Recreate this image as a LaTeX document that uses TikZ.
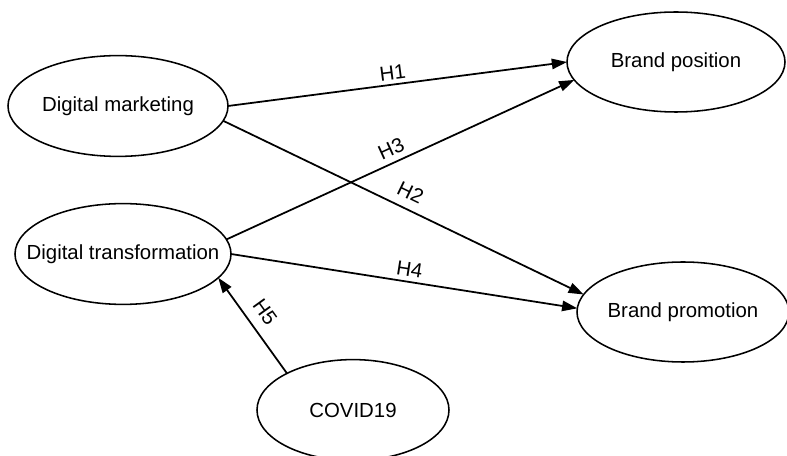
\documentclass[tikz,border=0pt]{standalone}
\usepackage{fontspec}
\setmainfont{Liberation Sans}
\usepackage{tikz}
\usetikzlibrary{arrows.meta,shapes.geometric}
\tikzset{every node/.append style={font=\fontsize{14.5}{17}\selectfont}}
\tikzset{construct/.style={ellipse, draw, line width=1.1pt, outer sep=0, inner sep=0, minimum height=2.52cm}}
\tikzset{hyp/.style={sloped, above, inner sep=4pt}}
% text kept out of the ellipse size
\newcommand{\ctext}[1]{\makebox[0pt]{#1}}

\begin{document}
\begin{tikzpicture}[line width=1.25pt, >={Triangle[length=0.38cm,width=0.26cm]}]
    \useasboundingbox (0,0) rectangle (19.675,11.4);

    \node[construct, minimum width=5.5cm] (DM) at (2.95,8.75) {\ctext{Digital marketing}};
    \node[construct, minimum width=5.4cm] (DT) at (3.075,5.05) {\ctext{Digital transformation}};
    \node[construct, minimum width=4.8cm] (COV) at (8.825,1.15) {\ctext{COVID19}};
    \node[construct, minimum width=5.45cm, minimum height=2.5cm] (BPos) at (16.9,9.85) {\ctext{Brand position}};
    \node[construct, minimum width=5.3cm, minimum height=2.5cm] (BPro) at (17.075,3.6) {\ctext{Brand promotion}};

    \draw[->] (DM.east) -- node[hyp, pos=0.49, inner sep=3pt] {H1} (BPos.west);
    \draw[->] (DM.-8.7) -- node[hyp, pos=0.50, inner sep=6pt] {H2} (BPro.170.6);
    \draw[->] (DT.8.5) -- node[hyp, pos=0.49] {H3} (BPos.-170);
    \draw[->] (DT.east) -- node[hyp, pos=0.51, inner sep=3pt] {H4} (BPro.178);
    \draw[->] (COV.151) -- node[hyp, pos=0.53, inner sep=7pt] {H5} (DT.-14);
\end{tikzpicture}
\end{document}
